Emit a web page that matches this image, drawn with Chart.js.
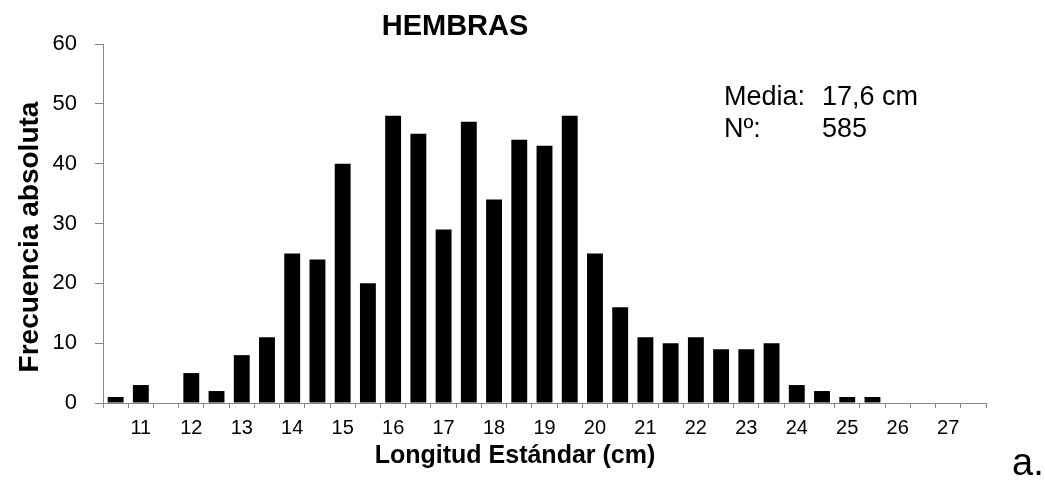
<!DOCTYPE html>
<html>
<head>
<meta charset="utf-8">
<script src="https://cdn.jsdelivr.net/npm/chart.js@4"></script>
<style>
  html, body { margin: 0; padding: 0; background: #fff; }
  #wrap { width: 1045px; height: 486px; }
</style>
</head>
<body>
<div id="wrap"><canvas id="c" width="1045" height="486"></canvas></div>
<script>
// Standard length classes (cm), half-centimetre steps
const lengthClasses = [10.5, 11, 11.5, 12, 12.5, 13, 13.5, 14, 14.5, 15, 15.5, 16, 16.5, 17, 17.5,
  18, 18.5, 19, 19.5, 20, 20.5, 21, 21.5, 22, 22.5, 23, 23.5, 24, 24.5, 25, 25.5, 26, 26.5, 27, 27.5];
// Absolute frequency of females in each class
const femaleCounts = [1, 3, 0, 5, 2, 8, 11, 25, 24, 40, 20, 48, 45, 29, 47,
  34, 44, 43, 48, 25, 16, 11, 10, 11, 9, 9, 10, 3, 2, 1, 1, 0, 0, 0, 0];
const yTicks = [0, 10, 20, 30, 40, 50, 60];

const chartTitle = 'HEMBRAS';
const xTitle = 'Longitud Estándar (cm)';
const yTitle = 'Frecuencia absoluta';
const statLines = [['Media:', '17,6 cm'], ['Nº:', '585']];
const panelTag = 'a.';

const FONT = '"Liberation Sans", Arial, Helvetica, sans-serif';
const AXIS_GREY = '#868686';

const textPlugin = {
  id: 'freeText',
  afterDraw(chart) {
    const ctx = chart.ctx;
    ctx.save();
    ctx.fillStyle = '#000';
    ctx.textBaseline = 'alphabetic';

    // Chart title
    ctx.font = 'bold 29px ' + FONT;
    ctx.textAlign = 'center';
    ctx.fillText(chartTitle, 455, 35);

    // X axis title
    ctx.font = 'bold 25px ' + FONT;
    ctx.fillText(xTitle, 515, 463);

    // Y axis title (rotated)
    ctx.font = 'bold 28px ' + FONT;
    ctx.save();
    ctx.translate(38, 237);
    ctx.rotate(-Math.PI / 2);
    ctx.fillText(yTitle, 0, 0);
    ctx.restore();

    // Summary statistics
    ctx.font = '27px ' + FONT;
    ctx.textAlign = 'left';
    ctx.fillText(statLines[0][0], 724, 105);
    ctx.fillText(statLines[0][1], 822, 105);
    ctx.fillText(statLines[1][0], 724, 137);
    ctx.fillText(statLines[1][1], 822, 137);

    // Panel tag
    ctx.font = '38px ' + FONT;
    ctx.fillText(panelTag, 1012, 475);
    ctx.restore();
  }
};

new Chart(document.getElementById('c'), {
  type: 'bar',
  data: {
    labels: lengthClasses,
    datasets: [{
      data: femaleCounts,
      backgroundColor: '#000',
      borderWidth: 0,
      barPercentage: 0.63,
      categoryPercentage: 1.0
    }]
  },
  options: {
    responsive: false,
    animation: false,
    devicePixelRatio: 1,
    layout: { padding: { left: 0, right: 59, top: 44, bottom: 0 } },
    plugins: {
      legend: { display: false },
      tooltip: { enabled: false },
      title: { display: false }
    },
    scales: {
      x: {
        type: 'category',
        offset: true,
        grid: {
          display: true,
          offset: true,
          drawOnChartArea: false,
          drawTicks: true,
          tickLength: 5,
          color: AXIS_GREY,
          lineWidth: 1
        },
        border: { display: true, color: AXIS_GREY, width: 1 },
        ticks: {
          autoSkip: false,
          maxRotation: 0,
          minRotation: 0,
          color: '#000',
          padding: 8,
          font: { family: FONT, size: 20 },
          callback(value, index) {
            const v = lengthClasses[index];
            return Number.isInteger(v) ? String(v) : '';
          }
        },
        afterFit(scale) { scale.height = 83; }
      },
      y: {
        min: 0,
        max: 60,
        afterBuildTicks(scale) { scale.ticks = yTicks.map(v => ({ value: v })); },
        grid: {
          display: true,
          drawOnChartArea: false,
          drawTicks: true,
          tickLength: 8,
          color: AXIS_GREY,
          lineWidth: 1
        },
        border: { display: true, color: AXIS_GREY, width: 1 },
        ticks: {
          color: '#000',
          padding: 18,
          font: { family: FONT, size: 22 }
        },
        afterFit(scale) { scale.width = 103; }
      }
    }
  },
  plugins: [textPlugin]
});
</script>
</body>
</html>
